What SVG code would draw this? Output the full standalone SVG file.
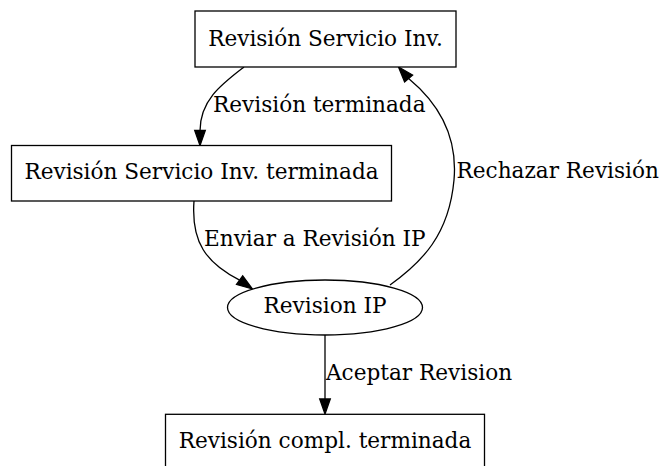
<svg xmlns="http://www.w3.org/2000/svg" width="660" height="466" viewBox="0 0 660 466">
<style>
text{font-family:"DejaVu Serif","Liberation Serif",serif;font-size:21.6px;fill:#000}
.n{fill:#fff;stroke:#000;stroke-width:1.3}
.e{fill:none;stroke:#000;stroke-width:1.3}
.ah{fill:#000;stroke:#000;stroke-width:1.3}
.c{text-anchor:middle}
</style>
<rect width="660" height="466" fill="#fff"/>
<g id="connectors">
<g id="e1">
<path class="e" d="M244,67 C222,84 200,100 200,131"/>
<polygon class="ah" points="200,145.5 194.7,130.5 205.3,130.5"/>
<text x="213" y="112">Revisión terminada</text>
</g>
<g id="e2">
<path class="e" d="M194,201 C191,242 206,263 239.6,280.1"/>
<polygon class="ah" points="252.5,289 236.5,284.4 242.7,275.8"/>
<text x="204" y="246">Enviar a Revisión IP</text>
</g>
<g id="e3">
<path class="e" d="M390,285 C422,262 449,235 454,180 C458,135 437,102 408.6,78.5"/>
<polygon class="ah" points="398.5,67 404.6,82 412.6,75"/>
<text x="456.5" y="178">Rechazar Revisión</text>
</g>
<g id="e4">
<path class="e" d="M325,335 L325,399"/>
<polygon class="ah" points="325,414 319.7,399 330.3,399"/>
<text x="326" y="380">Aceptar Revision</text>
</g>
</g>
<g id="n1">
<rect class="n" x="195" y="11" width="261" height="56"/>
<text class="c" x="325.5" y="46">Revisión Servicio Inv.</text>
</g>
<g id="n2">
<rect class="n" x="11.5" y="145.5" width="380" height="55.5"/>
<text class="c" x="201.5" y="178.5">Revisión Servicio Inv. terminada</text>
</g>
<g id="n3">
<ellipse class="n" cx="325" cy="307.5" rx="97.5" ry="27.5"/>
<text class="c" x="325" y="313">Revision IP</text>
</g>
<g id="n4">
<rect class="n" x="165.5" y="414.3" width="319" height="56"/>
<text class="c" x="325" y="448">Revisión compl. terminada</text>
</g>
</svg>
